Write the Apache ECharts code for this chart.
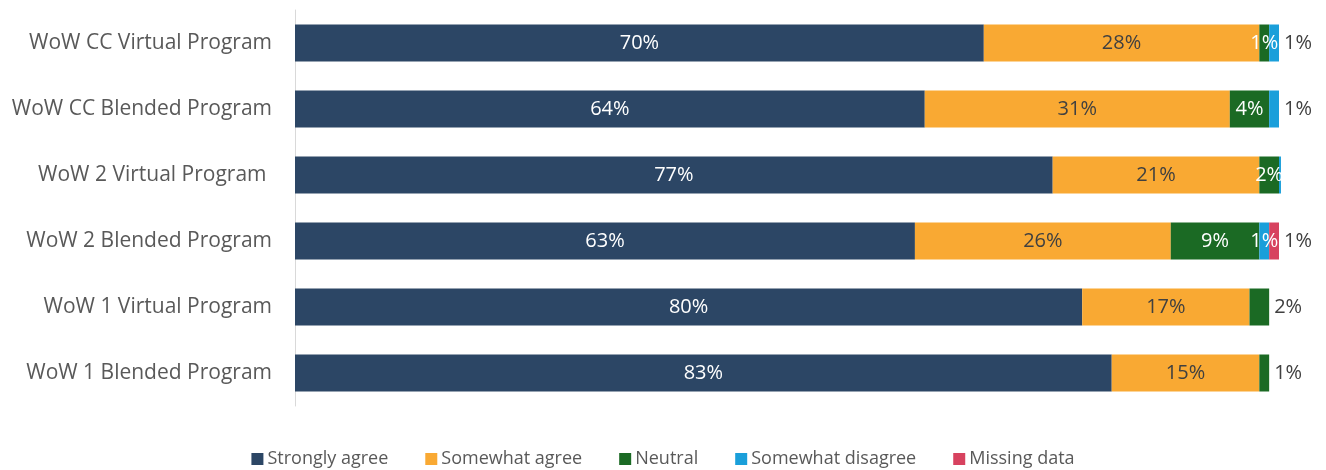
<!DOCTYPE html>
<html>
<head>
<meta charset="utf-8">
<script src="https://cdn.jsdelivr.net/npm/echarts@6/dist/echarts.min.js"></script>
<style>
  html, body { margin: 0; padding: 0; background: #fff; }
  #chart { width: 1326px; height: 470px; }
</style>
</head>
<body>
<div id="chart"></div>
<script>
// Programs, listed top to bottom
const programs = [
  'WoW CC Virtual Program',
  'WoW CC Blended Program',
  'WoW 2 Virtual Program ',
  'WoW 2 Blended Program',
  'WoW 1 Virtual Program',
  'WoW 1 Blended Program'
];

// Response shares (%) per program
const stronglyAgree    = [70, 64, 77, 63, 80, 83];
const somewhatAgree    = [28, 31, 21, 26, 17, 15];
const neutral          = [1, 4, 2, 9, 2, 1];
const somewhatDisagree = [1, 1, 0.2, 1, 0, 0];
const missingData      = [0, 0, 0, 1, 0, 0];

const seriesNames = ['Strongly agree', 'Somewhat agree', 'Neutral', 'Somewhat disagree', 'Missing data'];
const seriesValues = [stronglyAgree, somewhatAgree, neutral, somewhatDisagree, missingData];
const seriesColors = ['#2C4665', '#F9A933', '#1B6A24', '#1A9FDA', '#D7425F'];
const labelColors  = ['#ffffff', '#404040', '#ffffff', '#ffffff', '#ffffff'];

// For each program, which series' label sits outside the bar end (-1 = none)
const outsideLabel = [3, 3, -1, 4, 2, 2];

const FONT = 'Open Sans';

const series = seriesNames.map((name, si) => ({
  name: name,
  type: 'bar',
  stack: 'total',
  barWidth: 37,
  clip: false,
  itemStyle: { color: seriesColors[si] },
  label: {
    show: true,
    position: 'inside',
    color: labelColors[si],
    fontFamily: FONT,
    fontSize: 20,
    formatter: p => (p.value >= 1 ? p.value + '%' : '')
  },
  data: seriesValues[si].map((v, ri) => {
    if (v === 0) return { value: 0, label: { show: false }, itemStyle: { opacity: 0 } };
    if (outsideLabel[ri] === si) {
      return { value: v, label: { position: 'right', distance: 5, color: '#404040' } };
    }
    return v;
  })
}));

const chart = echarts.init(document.getElementById('chart'), null, { renderer: 'canvas' });
chart.setOption({
  animation: false,
  backgroundColor: '#ffffff',
  grid: { left: 295, right: 47, top: 10, height: 396, containLabel: false },
  xAxis: {
    type: 'value',
    min: 0,
    max: 100,
    show: false
  },
  yAxis: {
    type: 'category',
    data: programs,
    inverse: true,
    axisLine: { show: true, lineStyle: { color: '#D9D9D9', width: 1 } },
    axisTick: { show: false },
    axisLabel: { color: '#595959', fontFamily: FONT, fontSize: 21, margin: 23 },
    splitLine: { show: false }
  },
  legend: {
    data: seriesNames,
    top: 446,
    left: 'center',
    padding: 0,
    icon: 'rect',
    itemWidth: 12,
    itemHeight: 12,
    itemGap: 37,
    textStyle: { color: '#595959', fontFamily: FONT, fontSize: 18, lineHeight: 26, padding: [0, 0, 0, -1] }
  },
  series: series
});
</script>
</body>
</html>
